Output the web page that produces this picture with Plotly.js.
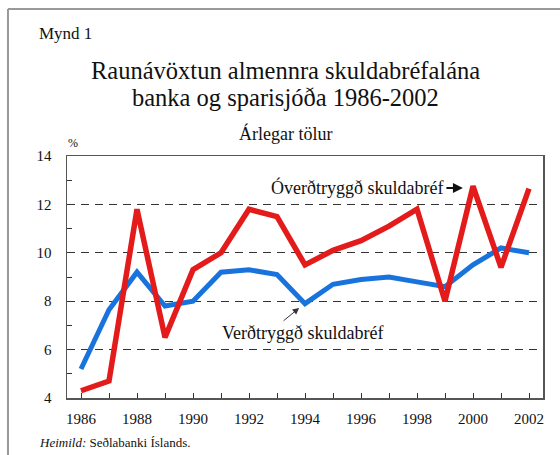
<!DOCTYPE html>
<html>
<head>
<meta charset="utf-8">
<script src="https://cdn.plot.ly/plotly-3.0.1.min.js"></script>
<style>html,body{margin:0;padding:0;background:#fff;}#chart{width:560px;height:455px;}</style>
</head>
<body>
<div id="chart"></div>
<script>
var years = [1986,1987,1988,1989,1990,1991,1992,1993,1994,1995,1996,1997,1998,1999,2000,2001,2002];
var overdtryggd = [4.3,4.7,11.8,6.5,9.3,10.0,11.8,11.5,9.5,10.1,10.5,11.1,11.8,8.0,12.75,9.4,12.65];
var verdtryggd = [5.2,7.65,9.2,7.8,8.0,9.2,9.3,9.1,7.9,8.7,8.9,9.0,8.8,8.6,9.5,10.2,10.0];
var xTicks = [1986,1988,1990,1992,1994,1996,1998,2000,2002];
var yTicks = [4,6,8,10,12,14];

var serif = "Liberation Serif";

var traces = [
  {x: years, y: verdtryggd, type: 'scatter', mode: 'lines', name: 'Verðtryggð skuldabréf',
   line: {color: '#1874dc', width: 5}},
  {x: years, y: overdtryggd, type: 'scatter', mode: 'lines', name: 'Óverðtryggð skuldabréf',
   line: {color: '#e41b1b', width: 5.5}}
];

var layout = {
  width: 560, height: 455,
  margin: {l: 67, r: 17, t: 156, b: 57},
  paper_bgcolor: '#fff', plot_bgcolor: '#fff',
  showlegend: false,
  font: {family: serif, color: '#111', size: 13},
  xaxis: {
    range: [1985.5, 2002.5], tickmode: 'array', tickvals: xTicks, ticktext: xTicks.map(String),
    ticks: 'inside', ticklen: 5, tickcolor: '#333', showgrid: false, zeroline: false,
    showline: true, linecolor: '#555', linewidth: 1.5, mirror: true, ticklabelstandoff: 6,
    minor: {dtick: 1, ticks: 'inside', ticklen: 5, tickcolor: '#333', showgrid: false},
    tickfont: {family: serif, size: 15, color: '#111'}
  },
  yaxis: {
    range: [4, 14], tickmode: 'array', tickvals: yTicks, ticktext: yTicks.map(String),
    ticks: 'inside', ticklen: 5, tickcolor: '#333', showgrid: true, gridcolor: '#333',
    griddash: '8px,6px', gridwidth: 1, zeroline: false, ticklabelstandoff: 11,
    showline: true, linecolor: '#555', linewidth: 1.5, mirror: true,
    minor: {dtick: 1, ticks: 'inside', ticklen: 5, tickcolor: '#333', showgrid: false},
    tickfont: {family: serif, size: 15, color: '#111'}
  },
  shapes: [
    {type: 'line', xref: 'paper', yref: 'paper', x0: -0.124, x1: 1.04, y0: 1.607, y1: 1.607,
     line: {color: '#999', width: 2}},
    {type: 'line', xref: 'paper', yref: 'paper', x0: -0.124, x1: -0.124, y0: 1.607, y1: -0.3,
     line: {color: '#999', width: 2}}
  ],
  annotations: [
    {text: 'Mynd 1', xref: 'paper', yref: 'paper', x: -0.062, y: 1.508, xanchor: 'left', yanchor: 'middle',
     showarrow: false, font: {family: serif, size: 17, color: '#111'}},
    {text: 'Raunávöxtun almennra skuldabréfalána', xref: 'paper', yref: 'paper', x: 0.458, y: 1.355,
     xanchor: 'center', yanchor: 'middle', showarrow: false, font: {family: serif, size: 24.5, color: '#111'}},
    {text: 'banka og sparisjóða 1986-2002', xref: 'paper', yref: 'paper', x: 0.458, y: 1.24,
     xanchor: 'center', yanchor: 'middle', showarrow: false, font: {family: serif, size: 24.5, color: '#111'}},
    {text: 'Árlegar tölur', xref: 'paper', yref: 'paper', x: 0.458, y: 1.095,
     xanchor: 'center', yanchor: 'middle', showarrow: false, font: {family: serif, size: 18, color: '#111'}},
    {text: '%', xref: 'paper', yref: 'paper', x: 0.013, y: 1.054,
     xanchor: 'center', yanchor: 'middle', showarrow: false, font: {family: serif, size: 12, color: '#111'}},
    {text: 'Óverðtryggð skuldabréf', xref: 'x', yref: 'y', x: 1995.87, y: 12.68,
     xanchor: 'center', yanchor: 'middle', showarrow: false, font: {family: serif, size: 18, color: '#111'}},
    {text: '', xref: 'x', yref: 'y', x: 1999.64, y: 12.68, ax: -18, ay: 0,
     showarrow: true, arrowhead: 2, arrowsize: 1, arrowwidth: 2, arrowcolor: '#111'},
    {text: 'Verðtryggð skuldabréf', xref: 'x', yref: 'y', x: 1993.91, y: 6.69,
     xanchor: 'center', yanchor: 'middle', showarrow: false, font: {family: serif, size: 18, color: '#111'}},
    {text: '', xref: 'x', yref: 'y', x: 1993.79, y: 7.72, ax: -17, ay: 14,
     showarrow: true, arrowhead: 2, arrowsize: 1.3, arrowwidth: 1, arrowcolor: '#333'},
    {text: '<i>Heimild:</i> Seðlabanki Íslands.', xref: 'paper', yref: 'paper', x: -0.062, y: -0.182,
     xanchor: 'left', yanchor: 'middle', showarrow: false, font: {family: serif, size: 13, color: '#111'}}
  ]
};

Plotly.newPlot('chart', traces, layout, {displayModeBar: false, staticPlot: true});
</script>
</body>
</html>
